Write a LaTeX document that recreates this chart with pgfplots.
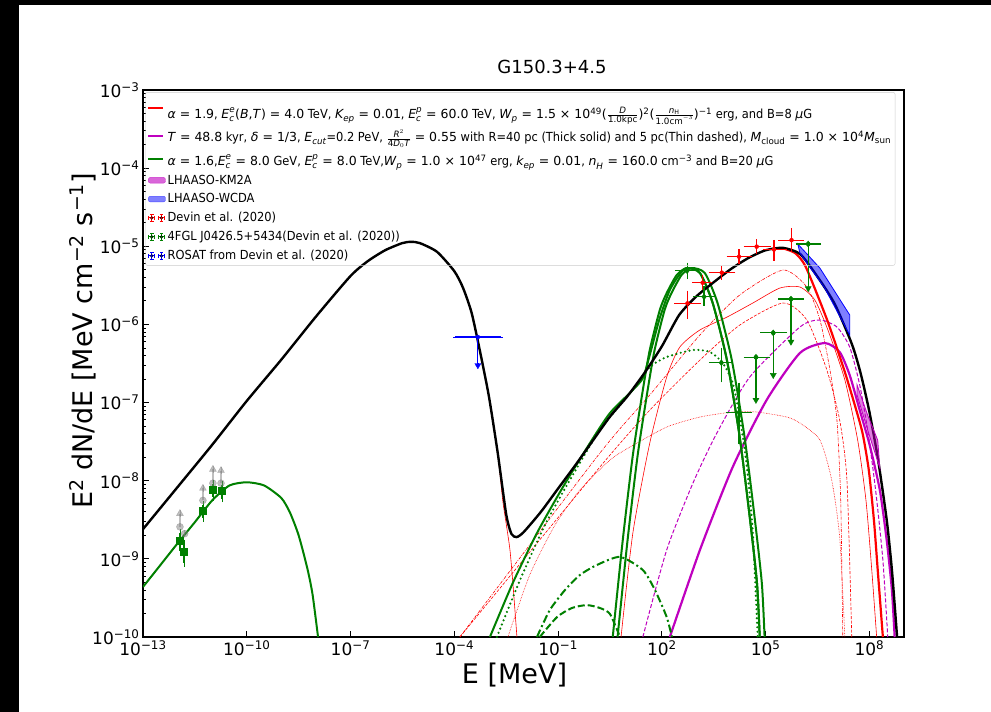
\documentclass[border=0pt]{standalone}
\usepackage{fontspec}
\setmainfont{DejaVu Sans}
\newfontfamily\legfont{DejaVu Sans}[FakeStretch=0.915]
\newfontfamily\mf{DejaVu Sans}
\usepackage{amsmath}
\usepackage{pgfplots}
\pgfplotsset{compat=1.18}
\definecolor{mplred}{rgb}{1,0,0}
\definecolor{mplgreen}{rgb}{0,0.5,0}
\definecolor{mplmag}{rgb}{0.75,0,0.75}
\definecolor{mplblue}{rgb}{0,0,1}
\newcommand{\I}[1]{\textit{#1}}
\newcommand{\M}[1]{{\mf #1}}
\newcommand{\EE}[3]{$\text{\itshape #1}^{\text{\itshape #2}}_{\text{\itshape #3}}$}
\pgfplotsset{
 linleg/.style={legend image code/.code={\draw[draw=#1, line width=1.8pt] (0cm,0cm) -- (0.5cm,0cm);}},
 errleg/.style={legend image code/.code={%
  \foreach \xx in {0.12,0.46}{%
    \draw[draw=#1,line width=0.9pt] (\xx cm-0.11cm,0cm) -- (\xx cm+0.11cm,0cm);
    \draw[draw=#1,line width=0.9pt] (\xx cm,-0.11cm) -- (\xx cm,0.11cm);
    \draw[draw=#1,line width=0.9pt] (\xx cm-0.11cm,-0.06cm) -- (\xx cm-0.11cm,0.06cm);
    \draw[draw=#1,line width=0.9pt] (\xx cm+0.11cm,-0.06cm) -- (\xx cm+0.11cm,0.06cm);
    \draw[draw=#1,line width=0.9pt] (\xx cm-0.06cm,0.11cm) -- (\xx cm+0.06cm,0.11cm);
    \draw[draw=#1,line width=0.9pt] (\xx cm-0.06cm,-0.11cm) -- (\xx cm+0.06cm,-0.11cm);
    \fill[fill=#1] (\xx cm,0cm) circle (0.05cm);
  }}}}
\begin{document}
\begin{tikzpicture}
\fill[black] (0pt,0pt) rectangle (991pt,712pt);
\fill[white] (19pt,0pt) rectangle (991pt,707pt);
\begin{axis}[
  at={(143pt,75pt)}, anchor=south west,
  scale only axis, width=761pt, height=547pt,
  xmode=log, ymode=log,
  xmin=1e-13, xmax=1e9, ymin=1e-10, ymax=1e-3,
  xtick={1e-13,1e-10,1e-7,1e-4,1e-1,1e2,1e5,1e8},
  xticklabels={10\textsuperscript{−13},10\textsuperscript{−10},10\textsuperscript{−7},10\textsuperscript{−4},10\textsuperscript{−1},10\textsuperscript{2},10\textsuperscript{5},10\textsuperscript{8}},
  xminorticks=false,
  ytick={1e-10,1e-9,1e-8,1e-7,1e-6,1e-5,1e-4,1e-3},
  yticklabels={10\textsuperscript{−10},10\textsuperscript{−9},10\textsuperscript{−8},10\textsuperscript{−7},10\textsuperscript{−6},10\textsuperscript{−5},10\textsuperscript{−4},10\textsuperscript{−3}},
  minor ytick={2e-10,3e-10,4e-10,5e-10,6e-10,7e-10,8e-10,9e-10,
    2e-9,3e-9,4e-9,5e-9,6e-9,7e-9,8e-9,9e-9,
    2e-8,3e-8,4e-8,5e-8,6e-8,7e-8,8e-8,9e-8,
    2e-7,3e-7,4e-7,5e-7,6e-7,7e-7,8e-7,9e-7,
    2e-6,3e-6,4e-6,5e-6,6e-6,7e-6,8e-6,9e-6,
    2e-5,3e-5,4e-5,5e-5,6e-5,7e-5,8e-5,9e-5,
    2e-4,3e-4,4e-4,5e-4,6e-4,7e-4,8e-4,9e-4},
  tick align=inside, xtick pos=left, ytick pos=left,
  major tick length=6pt, minor tick length=3.5pt,
  every tick/.style={black, line width=0.9pt},
  axis line style={black, line width=1.2pt},
  tick label style={font=\fontsize{17}{17}\selectfont},
  xlabel={E [MeV]},
  ylabel={E\textsuperscript{2} dN/dE [MeV cm\textsuperscript{−2} s\textsuperscript{−1}]},
  xlabel style={at={(axis description cs:0.4882,-0.0841)}, anchor=base, font=\fontsize{27}{27}\selectfont},
  ylabel style={at={(axis description cs:-0.0657,0.5411)}, anchor=base, font=\fontsize{27}{27}\selectfont},
  title={G150.3+4.5},
  title style={at={(axis description cs:0.5375,1.0183)}, anchor=base, font=\fontsize{18}{18}\selectfont},
  legend style={at={(0.003,0.996)}, anchor=north west, draw=black!20, fill=none,
    rounded corners=2pt,
    font=\legfont\fontsize{12.5}{14}\selectfont, row sep=4pt, inner xsep=2pt, inner ysep=2pt},
  legend cell align=left,
]
% ---------- legend ----------
\addlegendimage{linleg=mplred}
\addlegendentry{\rule[-13pt]{0pt}{35pt}\M{\I{α} = 1.9}, \M{\EE{E}{e}{c}(\I{B},\I{T}) = 4.0} TeV, \M{\EE{K}{}{ep} = 0.01}, \M{\EE{E}{p}{c} = 60.0} TeV, \M{\EE{W}{}{p} = 1.5 × 10\textsuperscript{49}($\frac{\text{\itshape D}}{\text{1.0kpc}}$)\textsuperscript{2}($\frac{\text{\itshape n}_{\text{H}}}{\text{1.0cm}^{-3}}$)\textsuperscript{−1}} erg, and B=8 \M{\I{μ}}G}
\addlegendimage{linleg=mplmag}
\addlegendentry{\rule[-5pt]{0pt}{19pt}\M{\I{T} = 48.8} kyr, \M{\I{δ} = 1/3}, \M{\EE{E}{}{cut}}=0.2 PeV, \M{$\frac{\text{\itshape R}^{2}}{\text{4\itshape D}_{0}\text{\itshape T}}$ = 0.55} with R=40 pc (Thick solid) and 5 pc(Thin dashed), \M{$\text{\itshape M}_{\text{cloud}}$ = 1.0 × 10\textsuperscript{4}$\text{\itshape M}_{\text{sun}}$}}
\addlegendimage{linleg=mplgreen}
\addlegendentry{\rule[-5pt]{0pt}{19pt}\M{\I{α} = 1.6},\M{\EE{E}{e}{c} = 8.0} GeV, \M{\EE{E}{p}{c} = 8.0} TeV,\M{\EE{W}{}{p} = 1.0 × 10\textsuperscript{47}} erg, \M{\EE{k}{}{ep} = 0.01}, \M{\EE{n}{}{H} = 160.0} cm\M{\textsuperscript{−3}} and B=20 \M{\I{μ}}G}
\addlegendimage{area legend, fill=mplmag!60, draw=mplmag!80}
\addlegendentry{LHAASO-KM2A}
\addlegendimage{area legend, fill=mplblue!50, draw=mplblue!70}
\addlegendentry{LHAASO-WCDA}
\addlegendimage{errleg=mplred}
\addlegendentry{Devin et al. (2020)}
\addlegendimage{errleg=mplgreen}
\addlegendentry{4FGL J0426.5+5434(Devin et al. (2020))}
\addlegendimage{errleg=mplblue}
\addlegendentry{ROSAT from Devin et al. (2020)}
% ---------- thin red components ----------
\addplot[forget plot, mplred, line width=0.6pt, smooth, tension=0.4] coordinates {
(1e-3,1.2e-7) (1.78e-3,2.3e-8) (2.51e-3,5.6e-9) (3.16e-3,2.82e-9) (4.07e-3,1.29e-9) (5.01e-3,4.47e-10) (6.46e-3,1e-10)};
\addplot[forget plot, mplred, line width=0.6pt, dash pattern=on 3pt off 1.2pt on 0.7pt off 1.2pt, smooth, tension=0.4] coordinates {
(1.45e-4,1e-10) (1.62,2.26e-8) (44.7,1.25e-7) (1.26e3,7.33e-7) (1.78e4,2.38e-6) (3.16e5,4.97e-6) (1.55e6,3.01e-6) (3.72e6,1.14e-6) (7.24e6,2.61e-7) (1.15e7,5.98e-8) (1.48e7,5.66e-9) (1.7e7,1e-10)};
\addplot[forget plot, mplred, line width=0.6pt, dash pattern=on 3pt off 1.5pt, smooth, tension=0.4] coordinates {
(1.45e-4,1e-10) (1.62,1.5e-8) (44.7,8.0e-8) (1.26e3,3.5e-7) (1.78e4,9.8e-7) (3.16e5,1.88e-6) (1.55e6,1.14e-6) (5.89e6,2.61e-7) (1.38e7,5.98e-8) (2.24e7,1.02e-8) (3.09e7,1e-10)};
\addplot[forget plot, mplred, line width=0.6pt, smooth, tension=0.4] coordinates {
(6.61,1e-10) (14.5,2.14e-9) (44.7,3.03e-8) (138,2.12e-7) (331,5.14e-7) (1.26e3,8.5e-7) (7.59e3,1.24e-6) (4.27e4,1.88e-6) (2.57e5,2.92e-6) (9.8e5,3.01e-6) (2.63e6,2.06e-6) (6.31e6,8.5e-7) (1.95e7,1.95e-7) (4.57e7,3.32e-8) (7.94e7,5.66e-9) (1.17e8,7.2e-10) (1.62e8,1e-10)};
\addplot[forget plot, mplred, line width=0.6pt, dash pattern=on 0.6pt off 1pt, smooth, tension=0.4] coordinates {
(3.55e-3,1e-10) (1.51e-2,6.21e-10) (8.13e-2,2.71e-9) (0.427,7.6e-9) (3.16,1.84e-8) (12.0,2.7e-8) (138,4.86e-8) (1.26e3,6.53e-8) (1.12e4,7.57e-8) (5.62e4,7.57e-8) (4.07e5,6.53e-8) (9.8e5,5.47e-8) (3.72e6,3.32e-8) (8.13e6,1.02e-8) (1.38e7,1.9e-9) (1.95e7,1e-10)};
% ---------- magenta ----------
\addplot[forget plot, mplmag, line width=1pt, dash pattern=on 4pt off 2pt, smooth, tension=0.4] coordinates {
(28.2,1e-10) (138,1.3e-9) (794,9.35e-9) (3.89e3,4.07e-8) (3.47e4,2.12e-7) (9.8e5,9.27e-7) (3.72e6,1.14e-6) (1.15e7,9.27e-7) (2.69e7,5.14e-7) (5.25e7,1.68e-7) (8.9e7,4.46e-8) (1.51e8,7.6e-9) (2.45e8,9.66e-10) (3.39e8,1e-10)};
\addplot[forget plot, mplmag, line width=2.2pt, smooth, tension=0.4] coordinates {
(170,1e-10) (1.26e3,1.3e-9) (1.12e4,1.5e-8) (1.07e5,1.08e-7) (9.8e5,4.31e-7) (5.13e6,5.78e-7) (1.38e7,4.44e-7) (2.69e7,2.25e-7) (5.25e7,8.0e-8) (1.02e8,2.86e-8) (2.0e8,7.6e-9) (3.16e8,1.74e-9) (4.47e8,3.99e-10) (5.37e8,1e-10)};
% ---------- green model ----------
\addplot[forget plot, mplgreen, line width=2pt, smooth, tension=0.4] coordinates {
(1e-13,4.37e-10) (3.16e-13,8.3e-10) (1e-12,1.58e-9) (3.16e-12,2.95e-9) (1e-11,5.6e-9) (3.16e-11,8.7e-9) (1e-10,9.55e-9) (3.16e-10,8.7e-9) (1e-9,6.0e-9) (1.78e-9,3.9e-9) (3.16e-9,2.0e-9) (5.62e-9,7.6e-10) (7.94e-9,3.55e-10) (1.15e-8,1e-10)};
\addplot[forget plot, mplgreen, line width=2pt, dash pattern=on 7pt off 3pt, smooth, tension=0.4] coordinates {
(2.95e-2,1e-10) (9.33e-2,1.8e-10) (0.251,2.35e-10) (0.676,2.56e-10) (1.62,2.35e-10) (3.16,1.97e-10) (6.17,1e-10)};
\addplot[forget plot, mplgreen, line width=2pt, dash pattern=on 8pt off 3pt on 2pt off 3pt, smooth, tension=0.4] coordinates {
(2.45e-2,1e-10) (5.75e-2,2.21e-10) (0.158,3.99e-10) (0.427,6.21e-10) (1.32,8.34e-10) (6.17,1.06e-9) (28.2,7.2e-10) (63.1,3.99e-10) (138,1.8e-10) (195,1e-10)};
\addplot[forget plot, mplgreen, line width=2.4pt, dash pattern=on 0pt off 4.5pt, line cap=round, smooth, tension=0.4] coordinates {
(1.7e-3,1e-10) (7.94e-3,5.36e-10) (4.17e-2,2.71e-9) (0.219,1.02e-8) (1.62,4.46e-8) (14.5,1.45e-7) (44.7,2.85e-7) (138,3.83e-7) (794,4.71e-7) (2.45e3,4.44e-7) (5.75e3,3.21e-7) (1.12e4,1.78e-7) (1.78e4,6.53e-8) (2.88e4,1.5e-8) (4.27e4,2.14e-9) (5.89e4,1e-10)};
\addplot[forget plot, mplgreen, line width=2pt, smooth, tension=0.4] coordinates {
(1.07e-3,1e-10) (4.9e-3,4.91e-10) (2.45e-2,2.14e-9) (0.138,8.3e-9) (0.832,3.03e-8) (3.16,7.35e-8) (14.5,1.45e-7) (28.2,2.06e-7) (44.7,4.06e-7) (87.1,1.21e-6) (170,2.76e-6) (331,4.42e-6) (525,5.27e-6) (1.26e3,4.55e-6) (2.95e3,1.88e-6) (7.59e3,3.51e-7) (1.78e4,3.62e-8) (3.47e4,3.43e-9) (5.62e4,4.91e-10) (6.76e4,1e-10)};
\addplot[forget plot, mplgreen, line width=2pt, smooth, tension=0.4] coordinates {
(3.80,1e-10) (7.41,1.74e-9) (14.5,2.13e-8) (28.2,1.45e-7) (44.7,4.71e-7) (87.1,1.53e-6) (138,2.52e-6) (269,4.29e-6) (525,5.27e-6) (1.26e3,4.55e-6) (2.95e3,1.88e-6) (7.59e3,3.51e-7) (1.78e4,3.62e-8) (3.47e4,3.43e-9) (5.62e4,4.91e-10) (6.76e4,1e-10)};
\addplot[forget plot, mplgreen, line width=2pt, smooth, tension=0.4] coordinates {
(5.24,1e-10) (10.2,1.74e-9) (20.0,2.13e-8) (38.9,1.45e-7) (61.7,4.71e-7) (120,1.53e-6) (190,2.52e-6) (371,4.29e-6) (725,5.27e-6) (1.74e3,4.55e-6) (4.07e3,1.88e-6) (1.05e4,3.51e-7) (2.46e4,3.62e-8) (4.79e4,3.43e-9) (7.76e4,4.91e-10) (9.33e4,1e-10)};
% ---------- red thick and black total ----------
\addplot[forget plot, mplred, line width=2.2pt, smooth, tension=0.4] coordinates {
(3.16e5,9.4e-6) (7.08e5,8.2e-6) (1.45e6,5.43e-6) (6.0e6,1.14e-6) (1.95e7,2.46e-7) (4.6e7,6.9e-8) (6.5e7,3.85e-8) (9.6e7,1.37e-8) (1.35e8,3.14e-9) (1.74e8,7.2e-10) (2.45e8,1e-10)};
\addplot[forget plot, black, line width=2.4pt, smooth, tension=0.4] coordinates {
(1e-13,2.4e-9) (1e-12,8.3e-9) (1e-11,2.88e-8) (1e-10,1.05e-7) (1e-9,3.55e-7) (1e-8,1.26e-6) (1e-7,4.17e-6) (3.16e-7,6.46e-6) (1e-6,8.9e-6) (3.16e-6,1.10e-5) (5.62e-6,1.14e-5) (1e-5,1.10e-5) (3.16e-5,8.5e-6) (1e-4,4.8e-6) (1.78e-4,2.95e-6) (3.16e-4,1.41e-6) (5.62e-4,4.37e-7) (1e-3,1.2e-7) (1.78e-3,2.34e-8) (3.16e-3,3.72e-9) (4.47e-3,2.09e-9) (6.31e-3,1.9e-9) (1e-2,2.19e-9) (3.16e-2,3.98e-9) (0.1,7.94e-9) (0.316,1.58e-8) (1,3.24e-8) (3.16,6.61e-8) (10,1.2e-7) (31.6,2.4e-7) (100,5.25e-7) (316,1.32e-6) (1e3,2.29e-6) (3.16e3,3.47e-6) (1e4,5.13e-6) (3.16e4,7.08e-6) (1e5,8.9e-6) (3.16e5,9.55e-6) (1e6,7.94e-6) (3.16e6,4.07e-6) (1e7,1.82e-6) (3.16e7,5.5e-7) (5.62e7,2.34e-7) (1e8,7.6e-8) (1.78e8,1.86e-8) (3.16e8,3.16e-9) (4.47e8,7.2e-10) (6.31e8,1e-10)};
% ---------- LHAASO bands ----------
\addplot[forget plot, fill=mplblue, fill opacity=0.5, draw=mplblue, line width=0.8pt] coordinates {
(8.5e5,1.07e-5) (3.7e6,5.27e-6) (2.7e7,1.32e-6) (2.7e7,7.3e-7) (5.1e6,2.92e-6) (9.8e5,8.2e-6)} -- cycle;
\addplot[forget plot, fill=mplmag, fill opacity=0.5, draw=mplmag, line width=0.8pt] coordinates {
(4.4e7,1.68e-7) (8.9e7,6.9e-8) (1.74e8,3.3e-8) (2.0e8,1.46e-8) (8.9e7,4.45e-8) (4.4e7,1.25e-7)} -- cycle;
% ---------- low-energy data ----------
\addplot[forget plot, only marks, mark=*, mark size=3.5pt, gray, mark options={fill opacity=0.5, draw opacity=0.5},
  error bars/.cd, y dir=plus, y explicit, error bar style={line width=1.2pt, gray, opacity=0.5}, error mark options={draw=none}]
  table[x=x, y=y, y error plus=ey] {
x y ey
1.17e-12 2.57e-9 1.23e-9
1.6e-12 2.1e-9 0
5.4e-12 5.6e-9 2.4e-9
1.05e-11 9.3e-9 4.7e-9
1.8e-11 9.3e-9 4.2e-9
};
\addplot[forget plot, only marks, mark=triangle*, mark size=4pt, gray, mark options={fill opacity=0.5, draw opacity=0.5}] coordinates {
(1.17e-12,3.8e-9) (5.4e-12,8.0e-9) (1.05e-11,1.4e-8) (1.8e-11,1.35e-8)};
\addplot[forget plot, only marks, mark=square*, mark size=3.5pt, mplgreen,
  error bars/.cd, y dir=both, y explicit, error bar style={line width=1.2pt, mplgreen}, error mark options={draw=none}]
  table[x=x, y=y, y error=ey] {
x y ey
1.17e-12 1.70e-9 0.45e-9
1.53e-12 1.23e-9 0.35e-9
5.4e-12 4.1e-9 0.8e-9
1.05e-11 7.6e-9 1.5e-9
1.9e-11 7.4e-9 1.5e-9
};
% ---------- ROSAT ----------
\addplot[forget plot, only marks, mark=none, mplblue,
  error bars/.cd, x dir=both, x explicit, y dir=minus, y explicit,
  error bar style={line width=1.2pt, mplblue}, error mark options={draw=none}]
  table[x=x, y=y, x error plus=xp, x error minus=xm, y error minus=ym] {
x y xp xm ym
4.8e-4 6.9e-7 1.72e-3 3.75e-4 3.9e-7
};
\addplot[forget plot, only marks, mark=triangle*, mark size=3.5pt, mplblue, mark options={rotate=180}] coordinates {(4.8e-4,3.0e-7)};
% ---------- Fermi 4FGL ----------
\addplot[forget plot, only marks, mark=diamond*, mark size=3pt, mplgreen,
  error bars/.cd, x dir=both, x explicit, y dir=both, y explicit,
  error bar style={line width=1.2pt, mplgreen}, error mark options={line width=1.2pt, mark size=4pt, mplgreen}]
  table[x=x, y=y, x error plus=xp, x error minus=xm, y error plus=yp, y error minus=ym] {
x y xp xm yp ym
537 4.87e-6 396 228 0.61e-6 0.58e-6
1660 2.26e-6 1090 610 0.49e-6 0.31e-6
5250 3.24e-7 3050 2250 1.24e-7 1.2e-7
1.7e4 7.5e-8 1.4e4 7.7e3 8.5e-8 4.2e-8
};
\addplot[forget plot, only marks, mark=diamond*, mark size=3pt, mplgreen,
  error bars/.cd, x dir=both, x explicit,
  error bar style={line width=1.2pt, mplgreen}, error mark options={line width=1.2pt, mark size=4pt, mplgreen}]
  table[x=x, y=y, x error plus=xp, x error minus=xm] {
x y xp xm
5.25e4 3.8e-7 4.75e4 2.25e4
1.66e5 7.8e-7 1.54e5 7.5e4
5.4e5 2.11e-6 4.4e5 2.4e5
1.7e6 1.07e-5 1.4e6 7.2e5
};
\addplot[forget plot, only marks, mark=none, mplgreen,
  error bars/.cd, y dir=minus, y explicit,
  error bar style={line width=1.2pt, mplgreen}, error mark options={draw=none}]
  table[x=x, y=y, y error minus=ym] {
x y ym
5.25e4 3.8e-7 2.7e-7
1.66e5 7.8e-7 5.6e-7
5.4e5 2.11e-6 1.5e-6
1.7e6 1.07e-5 7.9e-6
};
\addplot[forget plot, only marks, mark=triangle*, mark size=3.5pt, mplgreen, mark options={rotate=180}] coordinates {
(5.25e4,1.08e-7) (1.66e5,2.25e-7) (5.4e5,6.0e-7) (1.7e6,2.9e-6)};
% ---------- Devin et al. ----------
\addplot[forget plot, only marks, mark=*, mark size=2pt, mplred,
  error bars/.cd, x dir=both, x explicit, y dir=both, y explicit,
  error bar style={line width=1.2pt, mplred}, error mark options={line width=1.2pt, mark size=4pt, mplred}]
  table[x=x, y=y, x error plus=xp, x error minus=xm, y error plus=yp, y error minus=ym] {
x y xp xm yp ym
550 1.86e-6 500 255 0.54e-6 0.54e-6
1510 3.42e-6 680 510 0.38e-6 0.33e-6
5400 4.6e-6 4900 2450 0.37e-6 0.4e-6
1.7e4 7.36e-6 1.4e4 7.2e3 0.74e-6 0.66e-6
5.5e4 9.9e-6 5.2e4 2.5e4 1.0e-6 0.94e-6
1.74e5 9.1e-6 1.46e5 6.7e4 1.6e-6 1.74e-6
5.6e5 1.2e-5 4.2e5 2.6e5 3.1e-6 2.6e-6
};
\end{axis}
\end{tikzpicture}
\end{document}
